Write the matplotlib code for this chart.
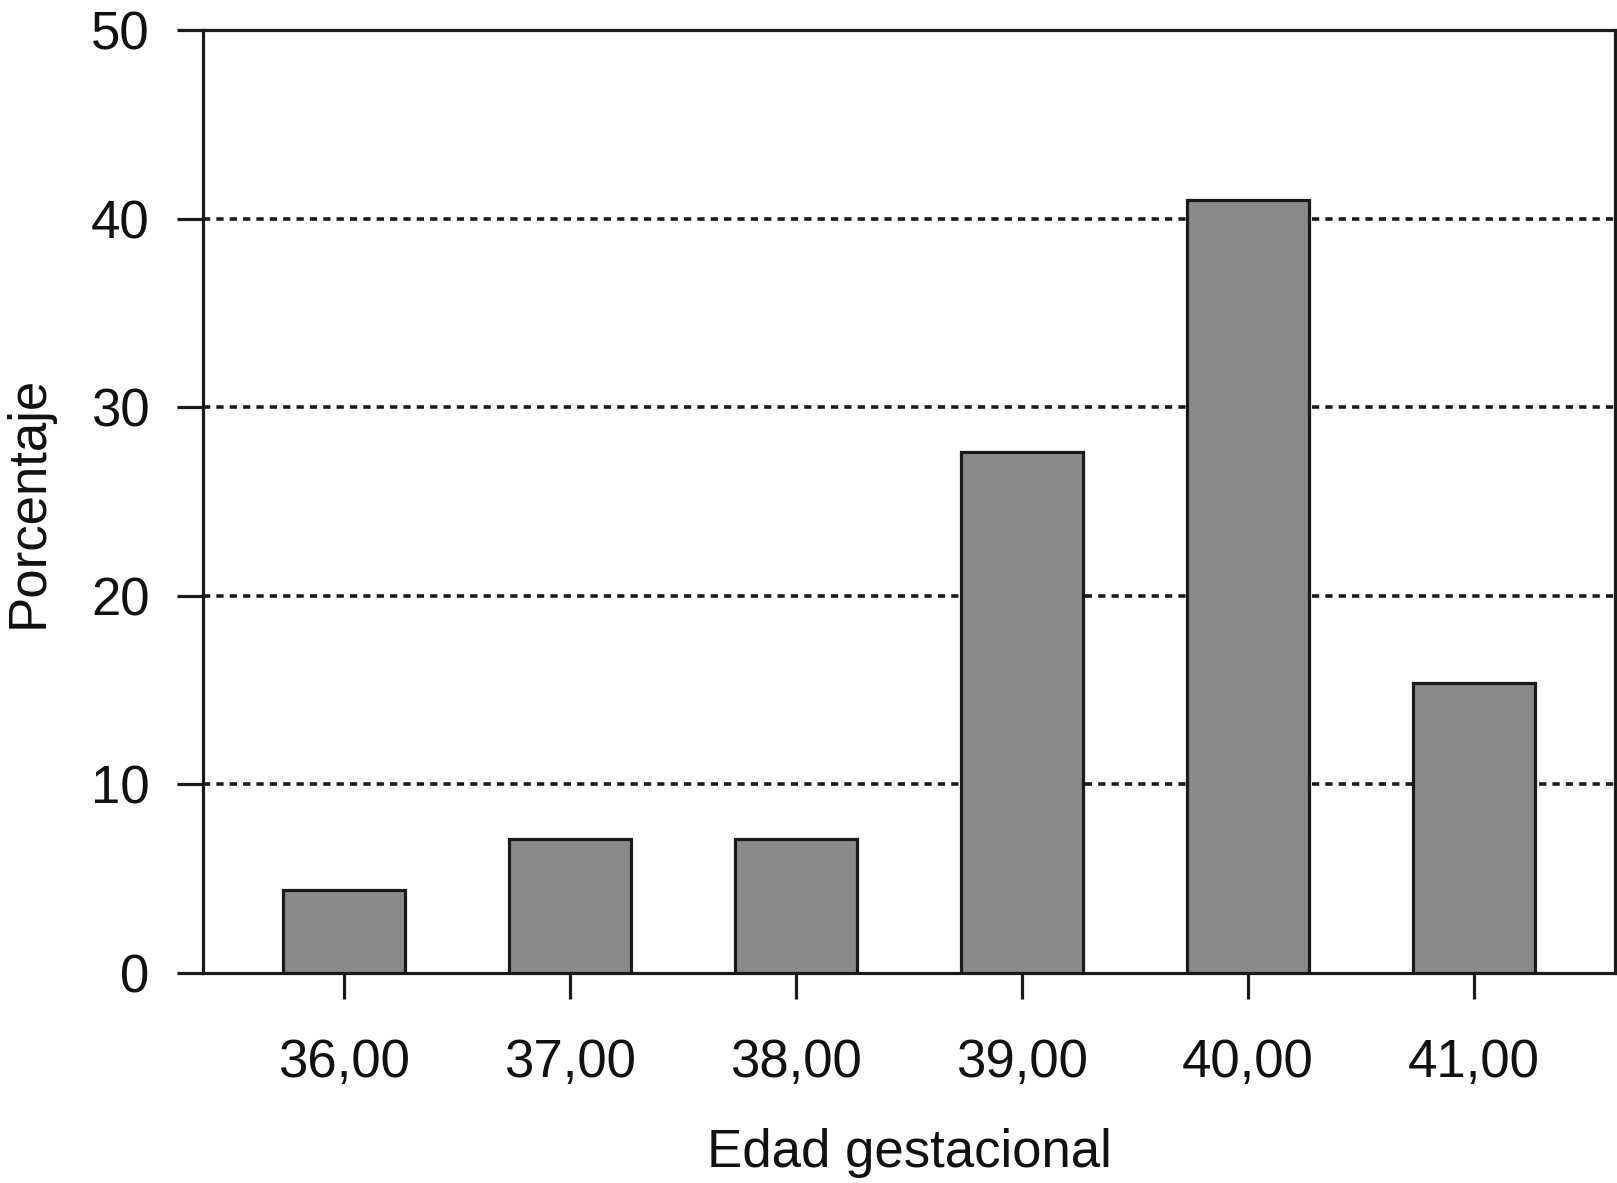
import numpy as np
import matplotlib
matplotlib.use("Agg")
import matplotlib.pyplot as plt

categories = ["36,00", "37,00", "38,00", "39,00", "40,00", "41,00"]
porcentaje = [4.4, 7.1, 7.1, 27.6, 41.0, 15.4]

plt.rcParams['font.family'] = ['Liberation Sans', 'DejaVu Sans']

fig = plt.figure(figsize=(16.17, 11.83), dpi=100)
ax = fig.add_axes([0.1255, 0.1775, 0.8733, 0.7971])

x = np.arange(len(categories))
ax.bar(x, porcentaje, width=0.54, color="#8a8a8a", edgecolor="#1a1a1a",
       linewidth=2.3, zorder=3)

ax.set_xlim(-0.624, len(categories) - 1 + 0.624)
ax.set_ylim(0, 50)
ax.set_yticks([0, 10, 20, 30, 40, 50])
ax.set_xticks(x)
ax.set_xticklabels(categories)

# dashed reference lines
for y in [10, 20, 30, 40]:
    ax.axhline(y, color="#1a1a1a", linewidth=2.6, linestyle=(0, (2.0, 1.7)), zorder=1)

for s in ax.spines.values():
    s.set_linewidth(2.3)
    s.set_color("#1a1a1a")

ax.tick_params(axis="both", direction="out", length=18.5, width=2.3,
               color="#1a1a1a", labelsize=38, labelcolor="#111111")
ax.tick_params(axis="y", pad=20)
ax.tick_params(axis="x", pad=28)

ax.set_xlabel("Edad gestacional", fontsize=38, color="#111111", labelpad=29)
ax.set_ylabel("Porcentaje", fontsize=38, color="#111111", labelpad=27)

fig.savefig("out.png", dpi=100)
